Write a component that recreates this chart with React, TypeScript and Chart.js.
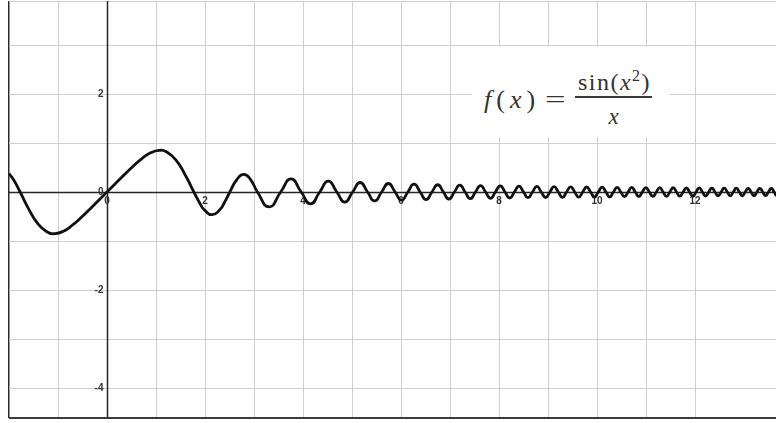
import React, { useEffect, useRef } from "react";
import { Chart, registerables } from "chart.js";

Chart.register(...registerables);

// Sample points (zero crossings, peaks/troughs and a few shoulder points)
const xValues = [
  -2.0, -1.9, -1.7725, -1.6, -1.4, -1.2, -1.08, -0.9, -0.7, -0.5, -0.3, 0,
  0.3, 0.5, 0.7, 0.9, 1.08, 1.2, 1.4, 1.6, 1.7725, 1.9, 2.0, 2.146, 2.3, 2.4,
  2.507, 2.65, 2.791, 2.93, 3.07, 3.309, 3.545, 3.755, 3.963, 4.153, 4.342,
  4.516, 4.69, 4.852, 5.013, 5.166, 5.317, 5.462, 5.605, 5.742, 5.879, 6.01,
  6.14, 6.266, 6.391, 6.512, 6.632, 6.749, 6.865, 6.977, 7.09, 7.2, 7.308,
  7.414, 7.52, 7.624, 7.726, 7.827, 7.927, 8.025, 8.122, 8.219, 8.314, 8.408,
  8.5, 8.592, 8.683, 8.773, 8.862, 8.951, 9.038, 9.124, 9.21, 9.295, 9.379,
  9.462, 9.545, 9.627, 9.708, 9.789, 9.869, 9.948, 10.027, 10.105, 10.182,
  10.259, 10.335, 10.411, 10.486, 10.561, 10.635, 10.708, 10.781, 10.854,
  10.926, 10.998, 11.069, 11.14, 11.21, 11.28, 11.349, 11.418, 11.487, 11.555,
  11.623, 11.69, 11.757, 11.824, 11.89, 11.956, 12.021, 12.086, 12.151,
  12.216, 12.28, 12.344, 12.407, 12.47, 12.533, 12.596, 12.658, 12.72, 12.781,
  12.843, 12.904, 12.965, 13.025, 13.085, 13.145, 13.205, 13.264, 13.323,
  13.382, 13.44, 13.499, 13.557, 13.614, 13.672, 13.73, 13.787,
];
const yValues = [
  0.378, 0.238, 0, -0.343, -0.661, -0.826, -0.851, -0.805, -0.672, -0.495, -0.3, 0,
  0.3, 0.495, 0.672, 0.805, 0.851, 0.826, 0.661, 0.343, 0, -0.238, -0.378, -0.463, -0.364, -0.208,
  0, 0.254, 0.358, 0.254, 0, -0.302, 0, 0.266, 0, -0.241, 0,
  0.221, 0, -0.206, 0, 0.194, 0, -0.183, 0, 0.174, 0, -0.166,
  0, 0.16, 0, -0.154, 0, 0.148, 0, -0.143, 0, 0.139, 0,
  -0.135, 0, 0.131, 0, -0.128, 0, 0.125, 0, -0.122, 0, 0.119,
  0, -0.116, 0, 0.114, 0, -0.112, 0, 0.11, 0, -0.108, 0,
  0.106, 0, -0.104, 0, 0.102, 0, -0.101, 0, 0.099, 0,
  -0.098, 0, 0.096, 0, -0.095, 0, 0.093, 0, -0.092,
  0, 0.091, 0, -0.09, 0, 0.089, 0, -0.088, 0, 0.087,
  0, -0.086, 0, 0.085, 0, -0.084, 0, 0.083, 0,
  -0.082, 0, 0.081, 0, -0.08, 0, 0.079, 0, -0.079, 0,
  0.078, 0, -0.077, 0, 0.076, 0, -0.076, 0, 0.075,
  0, -0.074, 0, 0.074, 0, -0.073, 0, 0.073,
];

const xTickLabels = [0, 2, 4, 6, 8, 10, 12];
const yTickLabels = [-4, -2, 0, 2];

const X_MIN = -2;
const X_MAX = 13.653;
const Y_MIN = -4.612;
const Y_MAX = 3.898;

const GRID = "#cfcfcf";

const centerAxes = {
  id: "centerAxes",
  beforeDatasetsDraw(chart: any) {
    const { ctx, chartArea, scales } = chart;
    const xs = scales.x;
    const ys = scales.y;
    const x0 = Math.round(xs.getPixelForValue(0)) + 0.5;
    const y0 = Math.round(ys.getPixelForValue(0)) + 0.5;
    ctx.save();
    ctx.strokeStyle = "#262626";
    ctx.lineWidth = 1.5;
    ctx.beginPath();
    ctx.moveTo(x0, chartArea.top);
    ctx.lineTo(x0, chartArea.bottom);
    ctx.moveTo(chartArea.left, y0);
    ctx.lineTo(chartArea.right, y0);
    ctx.stroke();
    ctx.fillStyle = "#333";
    ctx.font = 'bold 10px "Liberation Sans", Arial, sans-serif';
    ctx.textAlign = "center";
    ctx.textBaseline = "top";
    xTickLabels.forEach((v) => {
      ctx.fillText(String(v), xs.getPixelForValue(v), y0 + 4);
    });
    ctx.textAlign = "right";
    ctx.textBaseline = "middle";
    yTickLabels.forEach((v) => {
      ctx.fillText(String(v), x0 - 4, ys.getPixelForValue(v));
    });
    ctx.restore();
  },
};

export default function App() {
  const canvasRef = useRef<HTMLCanvasElement | null>(null);

  useEffect(() => {
    document.body.style.margin = "0";
    const canvas = canvasRef.current;
    if (!canvas) return;
    const data = xValues.map((x, i) => ({ x, y: yValues[i] }));
    const chart = new Chart(canvas, {
      type: "line",
      data: {
        datasets: [
          {
            data,
            borderColor: "#111",
            borderWidth: 2.8,
            pointRadius: 0,
            tension: 0.55,
            fill: false,
          },
        ],
      },
      options: {
        animation: false,
        responsive: false,
        events: [],
        layout: { padding: { left: 9, top: 1, right: 0, bottom: 5 } },
        plugins: { legend: { display: false }, tooltip: { enabled: false } },
        scales: {
          x: {
            type: "linear",
            min: X_MIN,
            max: X_MAX,
            ticks: { display: false, stepSize: 1 },
            grid: {
              drawTicks: false,
              color: (c: any) => (c.tick && c.tick.value === X_MIN ? "#2a2a2a" : GRID),
              lineWidth: (c: any) => (c.tick && c.tick.value === X_MIN ? 1.5 : 1),
            },
            border: { display: false },
            afterFit: (s: any) => {
              s.height = 0;
            },
          },
          y: {
            type: "linear",
            min: Y_MIN,
            max: Y_MAX,
            ticks: { display: false, stepSize: 1 },
            grid: {
              drawTicks: false,
              color: (c: any) => (c.tick && c.tick.value === Y_MIN ? "#3a3a3a" : GRID),
              lineWidth: (c: any) => (c.tick && c.tick.value === Y_MIN ? 2 : 1),
            },
            border: { display: false },
            afterFit: (s: any) => {
              s.width = 0;
            },
          },
        },
      },
      plugins: [centerAxes],
    });
    return () => chart.destroy();
  }, []);

  const serif = '"Liberation Serif", "Times New Roman", serif';
  const txt: React.CSSProperties = {
    position: "absolute",
    fontFamily: serif,
    color: "#333",
    lineHeight: 1,
    whiteSpace: "nowrap",
  };

  return (
    <div style={{ position: "relative", width: 776, height: 423, background: "#fff" }}>
      <canvas ref={canvasRef} width={776} height={423} style={{ position: "absolute", left: 0, top: 0 }} />
      <div
        style={{
          position: "absolute",
          left: 472,
          top: 47,
          width: 198,
          height: 90,
          background: "#fff",
        }}
      />
      <div style={{ ...txt, left: 484, top: 87, fontSize: 26, letterSpacing: 5 }}>
        <i>f</i>(<i>x</i>)
      </div>
      <div
        style={{
          ...txt,
          left: 545,
          top: 87,
          fontSize: 26,
          transform: "scaleX(1.4)",
          transformOrigin: "left center",
        }}
      >
        =
      </div>
      <div
        style={{
          ...txt,
          left: 575,
          top: 70,
          width: 79,
          textAlign: "center",
          fontSize: 24,
          letterSpacing: 1.5,
        }}
      >
        sin(<i>x</i>
        <sup style={{ fontSize: 16, verticalAlign: 0, position: "relative", top: -9 }}>2</sup>)
      </div>
      <div style={{ position: "absolute", left: 575, top: 96, width: 77, height: 2, background: "#3a3a3a" }} />
      <div style={{ ...txt, left: 575, top: 105, width: 77, textAlign: "center", fontSize: 23 }}>
        <i>x</i>
      </div>
    </div>
  );
}
